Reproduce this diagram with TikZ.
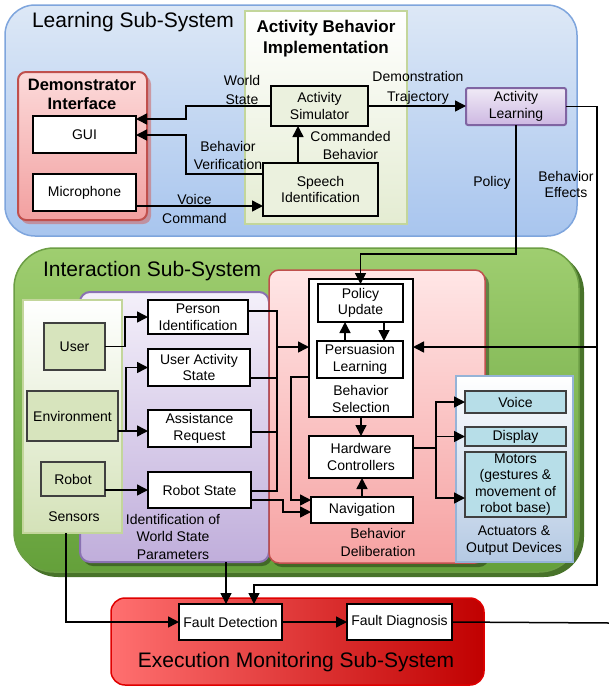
\documentclass[tikz,border=0pt]{standalone}
\usepackage{fontspec}
\setmainfont{Liberation Sans}
\usetikzlibrary{arrows.meta,calc}
\newcommand\txtbox{\fontsize{14pt}{16.5pt}\selectfont}
\newcommand\txttitle{\fontsize{21pt}{25pt}\selectfont}
\definecolor{cdark}{HTML}{404040}
\definecolor{csens}{HTML}{D7E4BD}
\definecolor{cact}{HTML}{B7DEE8}
\definecolor{cgb}{HTML}{EBF1DE}
\definecolor{cdemoshadow}{RGB}{205,110,110}
\definecolor{cintershadow}{RGB}{72,115,42}
\begin{document}
\begin{tikzpicture}[x=1pt,y=-1pt,
 every node/.style={inner sep=0pt, outer sep=0pt, align=center},
 cont/.style={line width=1.5pt},
 blk/.style={draw=black, line width=2pt, fill=white, font=\txtbox},
 grnbox/.style={blk, fill=cgb},
 sens/.style={draw=cdark, line width=1.2pt, fill=csens, font=\txtbox},
 actbox/.style={draw=cdark, line width=1.2pt, fill=cact, font=\txtbox},
 lbl/.style={font=\txtbox, text=black},
 conn/.style={line width=1.5pt, draw=black},
 arr/.style={conn, -{Triangle[length=11pt,width=11pt]}},
]
\useasboundingbox (0,0) rectangle (609,686);
\fill[white] (0,0) rectangle (609,686);

% ---------- containers ----------
\node[cont, rounded corners=30pt, minimum width=572pt, minimum height=231pt,
  top color={rgb,255:red,221;green,232;blue,246}, bottom color={rgb,255:red,168;green,197;blue,238},
  draw={rgb,255:red,126;green,165;blue,221}] (learn) at (291,120.5) {};
\node[cont, line width=2pt, minimum width=162pt, minimum height=213pt,
  top color=white, bottom color={rgb,255:red,228;green,236;blue,210},
  draw={rgb,255:red,195;green,214;blue,155}] (abi) at (326,117.5) {};
\fill[rounded corners=8pt, fill=cdemoshadow, opacity=0.6] (21,76) rectangle (151,224);
\node[cont, line width=2pt, rounded corners=8pt, minimum width=129pt, minimum height=148pt,
  top color={rgb,255:red,252;green,218;blue,218}, bottom color={rgb,255:red,242;green,160;blue,160},
  draw={rgb,255:red,192;green,80;blue,77}] (demo) at (82.5,146) {};

\fill[rounded corners=40pt, fill=cintershadow] (18,252) rectangle (584,577);
\node[cont, rounded corners=40pt, minimum width=565pt, minimum height=324pt,
  top color={rgb,255:red,159;green,206;blue,112}, bottom color={rgb,255:red,100;green,160;blue,58},
  draw={rgb,255:red,108;green,158;blue,69}] (inter) at (296.5,410) {};
\fill[rounded corners=10pt, fill=black, opacity=0.35] (83,296) rectangle (272,566);
\node[cont, line width=2pt, rounded corners=10pt, minimum width=189pt, minimum height=270pt,
  top color={rgb,255:red,244;green,240;blue,250}, bottom color={rgb,255:red,192;green,174;blue,219},
  draw={rgb,255:red,138;green,114;blue,178}] (idbox) at (174.5,427) {};
\node[cont, line width=2pt, minimum width=99pt, minimum height=233pt,
  top color=white, bottom color={rgb,255:red,212;green,226;blue,184},
  draw={rgb,255:red,195;green,214;blue,155}] (sensors) at (72.5,416.5) {};
\fill[rounded corners=10pt, fill=black, opacity=0.35] (272,274) rectangle (489,567);
\node[cont, rounded corners=10pt, minimum width=216pt, minimum height=293pt,
  top color={rgb,255:red,255;green,230;blue,230}, bottom color={rgb,255:red,246;green,162;blue,162},
  draw={rgb,255:red,192;green,80;blue,77}] (delib) at (377,416.5) {};
\node[cont, line width=2pt, minimum width=117pt, minimum height=186pt,
  top color=white, bottom color={rgb,255:red,180;green,201;blue,227},
  draw={rgb,255:red,149;green,179;blue,215}] (actu) at (514.5,469) {};

\node[cont, rounded corners=14pt, minimum width=373pt, minimum height=87pt,
  left color={rgb,255:red,255;green,112;blue,112}, middle color={rgb,255:red,255;green,0;blue,0},
  right color={rgb,255:red,192;green,0;blue,0},
  draw={rgb,255:red,224;green,0;blue,0}] (exec) at (297.5,641.5) {};

% ---------- titles ----------
\node[font=\txttitle, anchor=west] (tlearn) at (32,22) {Learning Sub-System};
\node[font=\fontsize{17pt}{21pt}\selectfont\bfseries] (tabi) at (326,39) {Activity Behavior\\Implementation};
\node[font=\fontsize{16.5pt}{19.5pt}\selectfont\bfseries] (tdemo) at (82,94.5) {Demonstrator\\Interface};
\node[font=\txttitle, anchor=west] (tinter) at (43,271) {Interaction Sub-System};
\node[lbl] (tsens) at (74,517) {Sensors};
\node[lbl, font=\fontsize{14pt}{17.5pt}\selectfont] (tid) at (173,536.5) {Identification of\\World State\\Parameters};
\node[lbl, font=\fontsize{14pt}{18pt}\selectfont] (tdelib) at (378,542) {Behavior\\Deliberation};
\node[lbl, font=\fontsize{14pt}{17pt}\selectfont] (tactu) at (514,540.5) {Actuators \&\\Output Devices};
\node[font=\txttitle] (texec) at (296,662) {Execution Monitoring Sub-System};

% ---------- learning nodes ----------
\node[blk, minimum width=103pt, minimum height=37pt] (gui) at (84.5,134.5) {GUI};
\node[blk, minimum width=103pt, minimum height=37pt] (mic) at (84.5,192.5) {Microphone};
\node[grnbox, minimum width=97pt, minimum height=40pt] (asim) at (319.5,106) {Activity\\Simulator};
\node[grnbox, minimum width=115pt, minimum height=53pt] (sid) at (320.5,189.5) {Speech\\Identification};
\node[font=\txtbox, line width=2pt, rounded corners=2pt, minimum width=100pt, minimum height=37pt,
  top color={rgb,255:red,240;green,234;blue,246}, bottom color={rgb,255:red,205;green,184;blue,226},
  draw={rgb,255:red,128;green,100;blue,162}] (al) at (516,106.5) {Activity\\Learning};

% ---------- interaction nodes ----------
\node[sens, minimum width=61pt, minimum height=47pt] (user) at (74.5,346.5) {User};
\node[sens, minimum width=91pt, minimum height=50pt] (env) at (72.5,416) {Environment};
\node[sens, minimum width=64pt, minimum height=34pt] (robot) at (73,479) {Robot};

\node[blk, minimum width=100pt, minimum height=34pt] (pi) at (198,317) {Person\\Identification};
\node[blk, minimum width=102pt, minimum height=37pt] (uas) at (199,367.5) {User Activity\\State};
\node[blk, minimum width=103pt, minimum height=37pt] (ar) at (199.5,428.5) {Assistance\\Request};
\node[blk, minimum width=103pt, minimum height=36pt] (rs) at (199.5,490) {Robot State};

\node[blk, minimum width=104pt, minimum height=138pt] (bsel) at (361,348) {};
\node[lbl, font=\fontsize{14pt}{17pt}\selectfont] (tbsel) at (361,399) {Behavior\\Selection};
\node[blk, minimum width=85pt, minimum height=38pt] (pu) at (360.5,303) {Policy\\Update};
\node[blk, minimum width=86pt, minimum height=37pt] (pl) at (360,359.5) {Persuasion\\Learning};
\node[blk, minimum width=104pt, minimum height=42pt] (hc) at (361,457) {Hardware\\Controllers};
\node[blk, minimum width=102pt, minimum height=26pt] (nav) at (362,510) {Navigation};

\node[actbox, minimum width=101pt, minimum height=22pt] (voice) at (515.5,402) {Voice};
\node[actbox, minimum width=101pt, minimum height=19pt] (display) at (515.5,436.5) {Display};
\node[actbox, minimum width=101pt, minimum height=65pt] (motors) at (515.5,484.5) {Motors\\(gestures \&\\movement of\\robot base)};

% ---------- execution nodes ----------
\node[blk, minimum width=103pt, minimum height=36pt] (fd) at (230.5,622) {Fault Detection};
\node[blk, minimum width=105pt, minimum height=36pt] (fdiag) at (399.5,622) {Fault Diagnosis};
\coordinate (exit) at (609,623);

% ---------- learning connectors ----------
\draw[arr] (asim.west) -- (asim.west -| 186,0) |- (gui.east |- 0,119);
\draw[arr] (sid.west |- 0,174) -| (186,135) -- (gui.east |- 0,135);
\draw[arr] (mic.east |- 0,206) -- (sid.west |- 0,206);
\draw[arr] (sid.north -| 298,0) -- (asim.south -| 298,0);
\draw[arr] (asim.east) -- (al.west |- asim.east);
\draw[arr] (al.south) -- (al.south |- 0,254) -| (pu.north);
\draw[arr] (al.east) -| (597,585) -| (fd.north -| 254,0);
\coordinate (beff) at (597,347);
\draw[arr] (beff) -- (bsel.east |- beff);

\node[lbl, font=\fontsize{14pt}{19pt}\selectfont] (lws) at (242,89.5) {World\\State};
\node[lbl, font=\fontsize{14pt}{18pt}\selectfont] (lbv) at (228,155) {Behavior\\Verification};
\node[lbl, font=\fontsize{14pt}{19pt}\selectfont] (lvc) at (194.5,208.5) {Voice\\Command};
\node[lbl, font=\fontsize{14pt}{18pt}\selectfont] (lcb) at (350.5,145.5) {Commanded\\Behavior};
\node[lbl, font=\fontsize{14pt}{20pt}\selectfont] (ldt) at (418,88) {Demonstration\\Trajectory};
\node[lbl] (lpol) at (492,183) {Policy};
\node[lbl, font=\fontsize{14pt}{16pt}\selectfont] (lbe) at (566,184) {Behavior\\Effects};

% ---------- interaction connectors ----------
\draw[arr] (user.east) -- (user.east -| 125,0) |- (pi.west);
\draw[arr] (env.east |- 0,431) -- (ar.west |- 0,431);
\draw[arr] (126,431) |- (uas.west);
\draw[arr] (robot.east |- rs.west) -- (rs.west);

\draw[conn] (pi.east |- 0,311) -| (277,491) -- (rs.east |- 0,491);
\draw[conn] (uas.east |- 0,378) -- (277,378);
\draw[conn] (ar.east |- 0,432) -- (277,432);
\draw[arr] (277,347) -- (bsel.west |- 0,347);
\draw[arr] (rs.east |- 0,500) -- (283,500) |- (nav.west |- 0,512);
\draw[arr] (bsel.west |- 0,377) -| (291,500) -- (nav.west |- 0,500);

\draw[arr] (pl.north -| 345,0) -- (pu.south -| 345,0);
\draw[arr] (pu.south -| 384,0) -- (pl.north -| 384,0);
\draw[arr] (bsel.south) -- (hc.north -| bsel.south);
\draw[arr] (nav.north) -- (hc.south -| nav.north);

\draw[conn] (hc.east |- 0,448) -- (436,448);
\draw[arr] (436,448) |- (voice.west);
\draw[arr] (436,448) |- (display.west);
\draw[arr] (436,448) |- (motors.west |- 0,498);

% ---------- execution connectors ----------
\draw[arr] (idbox.south -| 226,0) -- (fd.north -| 226,0);
\draw[arr] (sensors.south -| 66,0) |- (fd.west);
\draw[arr] (fd.east) -- (fdiag.west);
\draw[conn] (fdiag.east) -- (exit);
\end{tikzpicture}
\end{document}
